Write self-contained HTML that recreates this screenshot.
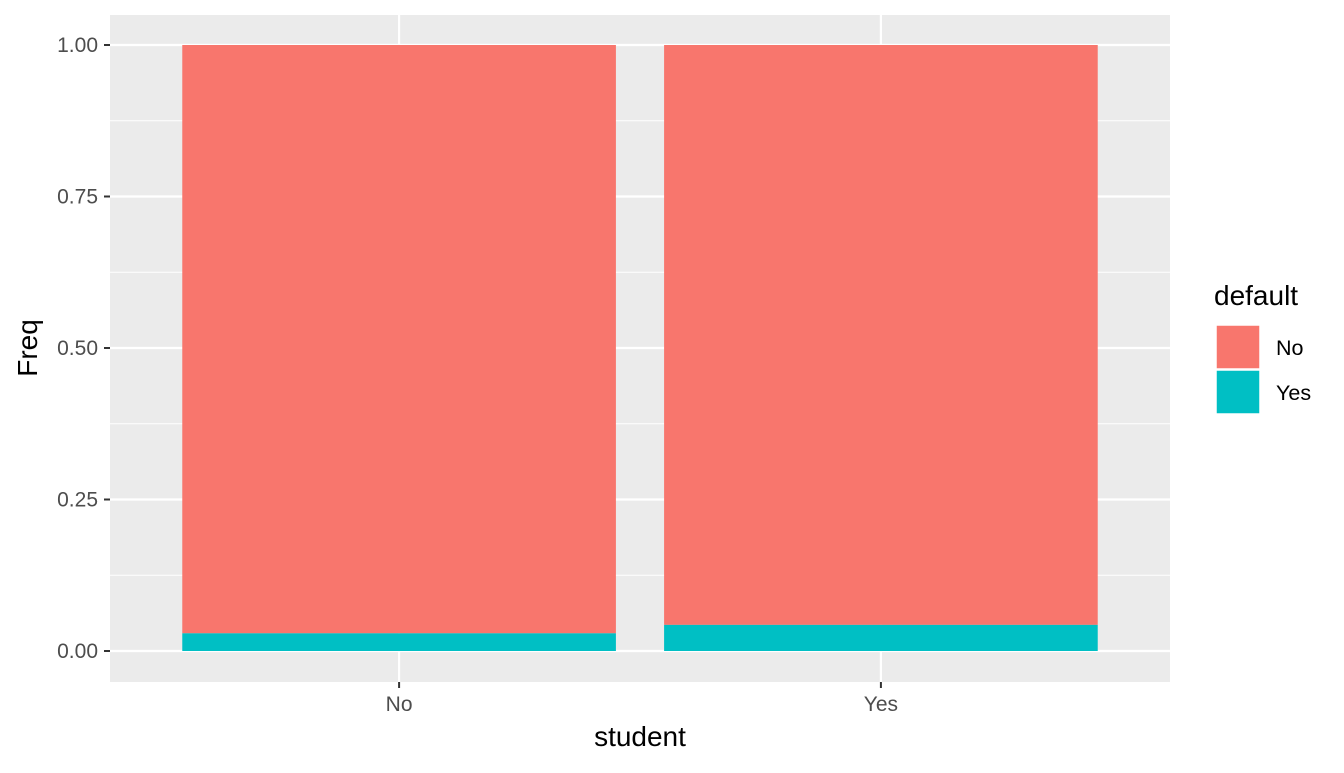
<!DOCTYPE html>
<html><head><meta charset="utf-8"><style>
body{margin:0;background:#fff;}
svg text{font-family:"Liberation Sans",sans-serif;}
</style></head><body>
<svg id="chart" width="1344" height="768" xmlns="http://www.w3.org/2000/svg">
<rect x="110" y="15" width="1060" height="667" fill="#ebebeb"/>
<g id="grid"></g>
<g id="bars"></g>
<g id="axes"></g>
<text x="640" y="746" font-size="28" text-anchor="middle" fill="#000">student</text>
<text transform="translate(37,348) rotate(-90)" font-size="28" text-anchor="middle" fill="#000">Freq</text>
<g>
<text x="1214" y="305" font-size="28" fill="#000">default</text>
<rect x="1216" y="325" width="44" height="44" fill="#F8766D" stroke="#fff" stroke-width="1.5"/>
<text x="1276" y="355" font-size="21.5" fill="#000">No</text>
<rect x="1216" y="370" width="44" height="44" fill="#00BFC4" stroke="#fff" stroke-width="1.5"/>
<text x="1276" y="400" font-size="21.5" fill="#000">Yes</text>
</g>
</svg>
<script>
const categories = ["No", "Yes"];
const defaultYes = [0.0292, 0.0431];
const defaultNo = [0.9708, 0.9569];
const yTicks = [0, 0.25, 0.5, 0.75, 1.0];
const yTickLabels = ["0.00", "0.25", "0.50", "0.75", "1.00"];

const NS = "http://www.w3.org/2000/svg";
const px0 = 110, px1 = 1170;
const y = v => 651 - v * 606;
const band = (px1 - px0) / 2.2;
const x = i => px0 + band * (0.6 + i);
const bw = band * 0.9;
function mk(tag, attrs, parent) {
  const e = document.createElementNS(NS, tag);
  for (const k in attrs) e.setAttribute(k, attrs[k]);
  document.getElementById(parent).appendChild(e);
  return e;
}
for (let i = 0; i < yTicks.length - 1; i++) {
  const m = (yTicks[i] + yTicks[i + 1]) / 2;
  const l = mk("line", {x1: px0, x2: px1, y1: y(m), y2: y(m), stroke: "#fff", "stroke-width": 1}, "grid");
  
  
}
yTicks.forEach((t, i) => {
  const l = mk("line", {x1: px0, x2: px1, y1: y(t), y2: y(t), stroke: "#fff", "stroke-width": 2.2}, "grid");
  
  
  const tk = mk("line", {x1: 104, x2: 110, y1: y(t), y2: y(t), stroke: "#333", "stroke-width": 2}, "axes");
  
  
  const tx = mk("text", {x: 98, y: y(t) + 7, "font-size": 21, "text-anchor": "end", fill: "#4d4d4d"}, "axes");
  tx.textContent = yTickLabels[i];
  
  
});
categories.forEach((c, i) => {
  const cx = x(i);
  const g = mk("line", {x1: cx, x2: cx, y1: 15, y2: 682, stroke: "#fff", "stroke-width": 2.2}, "grid");
  
  
  const b1 = mk("rect", {x: cx - bw / 2, y: y(defaultYes[i] + defaultNo[i]), width: bw, height: y(defaultYes[i]) - y(defaultYes[i] + defaultNo[i]), fill: "#F8766D"}, "bars");
  
  
  const b2 = mk("rect", {x: cx - bw / 2, y: y(defaultYes[i]), width: bw, height: y(0) - y(defaultYes[i]), fill: "#00BFC4"}, "bars");
  
  
  const tk = mk("line", {x1: cx, x2: cx, y1: 682, y2: 688, stroke: "#333", "stroke-width": 2}, "axes");
  
  
  const tx = mk("text", {x: cx, y: 711, "font-size": 21, "text-anchor": "middle", fill: "#4d4d4d"}, "axes");
  tx.textContent = c;
  
  
});
</script>
</body></html>
